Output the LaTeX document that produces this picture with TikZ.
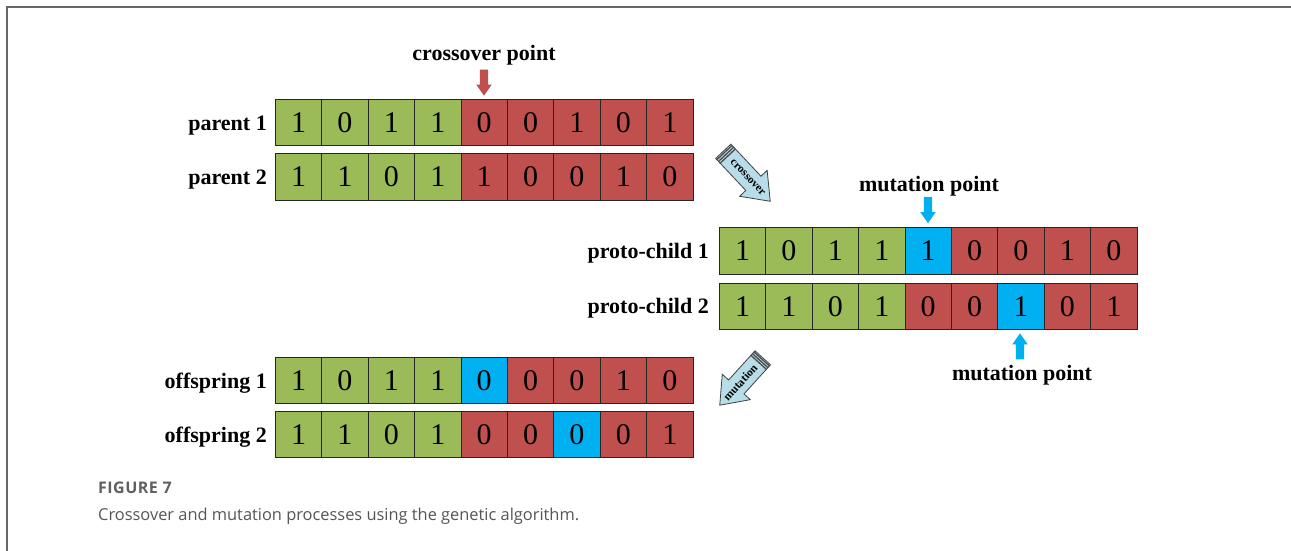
\documentclass[tikz,border=0pt]{standalone}
\usepackage{fontspec}
\setmainfont{Liberation Serif}
\newfontfamily\capfont{Open Sans}
\usetikzlibrary{shapes.arrows,calc}
\definecolor{cgreen}{HTML}{9BBB59}
\definecolor{cred}{HTML}{C0504D}
\definecolor{cblue}{HTML}{00B0F0}
\definecolor{arrowblue}{HTML}{B7DEE8}
\definecolor{capgray}{HTML}{555555}
\definecolor{figgray}{HTML}{606060}
\newcommand{\generow}[4]{%
  \foreach \c/\v [count=\i] in {#4} {%
    \node[cell,fill=\c] (#1-\i) at ({#2+(\i-1)*46.4},#3) {\v};}}
\begin{document}
\begin{tikzpicture}[x=1pt,y=-1pt,
  cell/.style={draw=black!85,line width=0.7pt,minimum width=46.4pt,minimum height=46.5pt,
    inner sep=0pt,anchor=west,font=\fontsize{30}{30}\selectfont},
  rowlabel/.style={font=\bfseries\fontsize{22}{22}\selectfont,anchor=base east,inner sep=0pt},
  toplabel/.style={font=\bfseries\fontsize{22}{22}\selectfont,anchor=base,inner sep=0pt},
  marker/.style={single arrow,draw=none,minimum height=26pt,inner xsep=0pt,inner ysep=4pt,
    single arrow head extend=3.5pt,single arrow tip angle=70,anchor=tip},
  bigarrow/.style={single arrow,draw=black!75,fill=arrowblue,line width=0.8pt,
    inner xsep=0pt,inner ysep=10pt,single arrow head extend=8.5pt,single arrow tip angle=75,
    anchor=tail},
  arrowtext/.style={font=\bfseries\fontsize{11.5}{11.5}\selectfont,inner sep=0pt},
  stripe/.style={draw=black!70,line width=1.3pt}]
\useasboundingbox (0,0) rectangle (1291,551);
\draw[line width=1.3pt,draw=black!60] (7,551) -- (7,7) -- (1291,7);

% parents
\node[rowlabel] (lp1) at (267,130) {parent 1};
\node[rowlabel] (lp2) at (267,184.5) {parent 2};
\generow{p1}{275}{122.5}{cgreen/1,cgreen/0,cgreen/1,cgreen/1,cred/0,cred/0,cred/1,cred/0,cred/1}
\generow{p2}{275}{177}{cgreen/1,cgreen/1,cgreen/0,cgreen/1,cred/1,cred/0,cred/0,cred/1,cred/0}
\node[toplabel] (xlabel) at (484,61) {crossover point};
\node[marker,fill=cred,rotate=-90] (xmark) at (484,96) {};

% proto-children
\node[rowlabel] (lc1) at (709,258.3) {proto-child 1};
\node[rowlabel] (lc2) at (709,313.8) {proto-child 2};
\generow{c1}{719}{250.8}{cgreen/1,cgreen/0,cgreen/1,cgreen/1,cblue/1,cred/0,cred/0,cred/1,cred/0}
\generow{c2}{719}{306.3}{cgreen/1,cgreen/1,cgreen/0,cgreen/1,cred/0,cred/0,cblue/1,cred/0,cred/1}
\node[toplabel] (mlabel1) at (929,191) {mutation point};
\node[marker,fill=cblue,rotate=-90] (mmark1) at (928,223.5) {};
\node[marker,fill=cblue,rotate=90] (mmark2) at (1020,333) {};
\node[toplabel] (mlabel2) at (1022,380) {mutation point};

% offspring
\node[rowlabel] (lo1) at (267,388) {offspring 1};
\node[rowlabel] (lo2) at (267,442) {offspring 2};
\generow{o1}{275}{380.5}{cgreen/1,cgreen/0,cgreen/1,cgreen/1,cblue/0,cred/0,cred/0,cred/1,cred/0}
\generow{o2}{275}{434.5}{cgreen/1,cgreen/1,cgreen/0,cgreen/1,cred/0,cred/0,cblue/0,cred/0,cred/1}

% crossover arrow
\node[bigarrow,minimum height=68.6pt,rotate=-46.8] (xarr) at (723,151) {};
\foreach \t in {0.03,0.065,0.1}
  \draw[stripe] let \p1=($(xarr.tip)-(xarr.tail)$) in
    ($(xarr.before tail)+\t*(\x1,\y1)$) -- ($(xarr.after tail)+\t*(\x1,\y1)$);
\node[arrowtext,rotate=-46.8] (xtext) at ($(xarr.tail)!0.52!(xarr.tip)$) {crossover};

% mutation arrow
\node[bigarrow,minimum height=64pt,rotate=227.8] (marr) at (763,357.5) {};
\foreach \t in {0.03,0.065,0.1}
  \draw[stripe] let \p1=($(marr.tip)-(marr.tail)$) in
    ($(marr.before tail)+\t*(\x1,\y1)$) -- ($(marr.after tail)+\t*(\x1,\y1)$);
\node[arrowtext,rotate=47.8] (mtext) at ($(marr.tail)!0.52!(marr.tip)$) {mutation};

% caption
\node[anchor=base west,inner sep=0pt,text=figgray,font=\capfont\bfseries\fontsize{16}{16}\selectfont\addfontfeature{LetterSpace=3}] (figno) at (98,493) {FIGURE 7};
\node[anchor=base west,inner sep=0pt,text=capgray,font=\capfont\fontsize{16.4}{16.4}\selectfont] (cap) at (98,520) {Crossover and mutation processes using the genetic algorithm.};
\end{tikzpicture}
\end{document}
